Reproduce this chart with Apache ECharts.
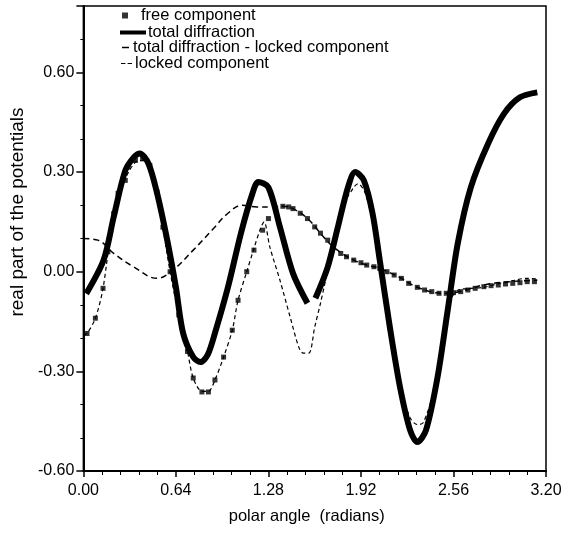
<!DOCTYPE html>
<html>
<head>
<meta charset="utf-8">
<script src="https://cdn.jsdelivr.net/npm/echarts@6/dist/echarts.min.js"></script>
<style>
html,body{margin:0;padding:0;background:#fff;}
#chart{width:565px;height:535px;}
</style>
</head>
<body>
<div id="chart"></div>
<script>
// ---- data ----
var xTicks = ['0.00','0.64','1.28','1.92','2.56','3.20'];
var yTicks = ['-0.60','-0.30','0.00','0.30','0.60'];

var freeX = [0.025,0.083,0.136,0.17,0.21,0.24,0.29,0.31,0.36,0.41,0.46,0.51,0.55,0.60,0.66,0.72,0.76,0.82,0.865,0.91,0.97,1.03,1.07,1.13,1.18,1.24,1.28,1.33,1.38,1.42,1.45,1.50,1.55,1.60,1.64,1.69,1.73,1.78,1.82,1.87,1.92,1.96,2.01,2.05,2.10,2.15,2.20,2.25,2.31,2.36,2.41,2.46,2.51,2.56,2.61,2.66,2.71,2.77,2.82,2.87,2.92,2.97,3.02,3.07,3.12];
var freeY = [-0.186,-0.14,-0.05,0.06,0.175,0.236,0.275,0.315,0.335,0.34,0.32,0.24,0.134,0.0,-0.13,-0.24,-0.32,-0.362,-0.362,-0.326,-0.257,-0.176,-0.086,0.0,0.065,0.125,0.16,0.19,0.197,0.195,0.19,0.176,0.16,0.135,0.116,0.095,0.074,0.055,0.045,0.035,0.027,0.02,0.015,0.01,0.0,-0.01,-0.02,-0.035,-0.047,-0.055,-0.06,-0.065,-0.065,-0.063,-0.06,-0.055,-0.05,-0.045,-0.042,-0.04,-0.037,-0.035,-0.033,-0.03,-0.03];

var totalX = [0.02,0.14,0.21,0.29,0.35,0.39,0.45,0.51,0.58,0.64,0.69,0.76,0.81,0.86,0.91,1.00,1.09,1.17,1.21,1.28,1.36,1.45,1.55,1.58,1.605,1.69,1.76,1.83,1.88,1.94,2.00,2.05,2.12,2.19,2.26,2.31,2.37,2.45,2.52,2.59,2.68,2.80,2.91,3.02,3.14];
var totalY = [-0.066,0.035,0.165,0.305,0.345,0.356,0.326,0.236,0.095,-0.047,-0.185,-0.257,-0.272,-0.25,-0.185,-0.047,0.116,0.236,0.27,0.254,0.134,-0.005,-0.095,null,-0.08,0.014,0.134,0.254,0.30,0.275,0.176,0.035,-0.167,-0.347,-0.477,-0.513,-0.477,-0.317,-0.116,0.086,0.254,0.386,0.476,0.525,0.54];

var diffX = [0.0,0.025,0.083,0.136,0.21,0.29,0.36,0.41,0.46,0.51,0.55,0.60,0.66,0.72,0.76,0.82,0.865,0.91,0.97,1.03,1.07,1.13,1.18,1.225,1.25,1.29,1.36,1.43,1.49,1.52,1.56,1.60,1.64,1.71,1.78,1.87,1.90,1.95,2.00,2.05,2.12,2.19,2.26,2.31,2.35,2.42,2.49,2.54,2.59,2.68,2.77,2.88,2.98,3.06,3.14];
var diffY = [-0.19,-0.186,-0.14,-0.05,0.175,0.28,0.33,0.335,0.32,0.24,0.134,0.0,-0.13,-0.24,-0.32,-0.36,-0.36,-0.326,-0.257,-0.176,-0.086,0.0,0.07,0.13,0.15,0.074,-0.026,-0.136,-0.227,-0.245,-0.245,-0.167,-0.095,0.044,0.185,0.254,0.265,0.236,0.15,0.02,-0.17,-0.34,-0.44,-0.46,-0.455,-0.366,-0.215,-0.086,-0.056,-0.05,-0.047,-0.035,-0.026,-0.02,-0.022];

var lockedX = [0.0,0.1,0.21,0.35,0.51,0.62,0.76,0.90,1.0,1.1,1.2,1.3,1.38,1.45,1.55,1.64,1.73,1.87,1.96,2.05,2.2,2.31,2.49,2.6,2.77,2.95,3.14];
var lockedY = [0.10,0.095,0.055,0.014,-0.02,0.005,0.065,0.13,0.176,0.20,0.195,0.195,0.197,0.19,0.16,0.116,0.074,0.035,0.02,0.01,-0.02,-0.047,-0.065,-0.06,-0.04,-0.03,-0.026];

var names = ['free component','total diffraction','total diffraction - locked component','locked component'];

function pairs(xs, ys){ return xs.map(function(x,i){ return [x, ys[i]]; }); }

var FONT = 'Liberation Sans';
var chart = echarts.init(document.getElementById('chart'), null, {renderer:'canvas'});

function leg(name, top, left, w, h, icon, padL){
  return {data:[{name:name, icon:icon}], orient:'vertical', top:top, left:left, itemWidth:w, itemHeight:h, itemGap:0, padding:0,
          textStyle:{fontFamily:FONT, fontSize:16.5, color:'#000', padding:[0,0,0,padL]}, selectedMode:false};
}

chart.setOption({
  animation:false,
  backgroundColor:'#fff',
  grid:{left:83, right:19, top:6, bottom:64, show:true, borderColor:'#000', borderWidth:1.5},
  legend:[
    leg(names[0], 7, 122, 6, 6, 'rect', 8),
    leg(names[1], 24, 120, 26, 4, 'rect', -3),
    leg(names[2], 39, 122, 7, 1.5, 'rect', -1),
    leg(names[3], 55, 121, 11, 1.5, 'path://M0,0 L4,0 L4,1 L0,1 Z M6,0 L10,0 L10,1 L6,1 Z', -2)
  ],
  xAxis:{
    type:'value', min:0, max:3.2, interval:0.64,
    name:'polar angle  (radians)', nameLocation:'middle', nameGap:37,
    nameTextStyle:{fontFamily:FONT, fontSize:16.5, color:'#000', padding:[0,16,0,0]},
    axisLine:{onZero:false, lineStyle:{color:'#000', width:2}},
    axisTick:{length:6, lineStyle:{color:'#000', width:1.5}},
    minorTick:{show:true, splitNumber:5, length:4, lineStyle:{color:'#000', width:1}},
    splitLine:{show:false},
    axisLabel:{fontFamily:FONT, fontSize:16, color:'#000', margin:12,
      formatter:function(v){ var i=Math.round(v/0.64); return xTicks[i]!==undefined?xTicks[i]:''; }}
  },
  yAxis:{
    type:'value', min:-0.6, max:0.8, interval:0.3,
    name:'real part of the potentials', nameLocation:'middle', nameGap:55, nameRotate:90,
    nameTextStyle:{fontFamily:FONT, fontSize:19, color:'#000', padding:[0,0,0,53]},
    axisLine:{onZero:false, lineStyle:{color:'#000', width:2}},
    axisTick:{length:7, lineStyle:{color:'#000', width:1.5}},
    minorTick:{show:true, splitNumber:3, length:3, lineStyle:{color:'#000', width:1}},
    splitLine:{show:false},
    axisLabel:{fontFamily:FONT, fontSize:16, color:'#000', margin:9,
      formatter:function(v){ if(v>0.7) return ''; var i=Math.round((v+0.6)/0.3); return yTicks[i]!==undefined?yTicks[i]:''; }}
  },
  series:[
    {name:names[0], type:'scatter', data:pairs(freeX,freeY), symbol:'rect', symbolSize:5,
     itemStyle:{color:'#000'}, z:5},
    {name:names[1], type:'line', data:pairs(totalX,totalY), showSymbol:false, smooth:0.3, connectNulls:false,
     lineStyle:{color:'#000', width:6}, itemStyle:{color:'#000'}, z:4},
    {name:names[2], type:'line', data:pairs(diffX,diffY), showSymbol:false, smooth:0.3,
     lineStyle:{color:'#000', width:1.2, type:[4,3]}, itemStyle:{color:'#000'}, z:3},
    {name:names[3], type:'line', data:pairs(lockedX,lockedY), showSymbol:false, smooth:0.4,
     lineStyle:{color:'#000', width:1.5, type:[6,4]}, itemStyle:{color:'#000'}, z:3}
  ]
});
</script>
</body>
</html>
